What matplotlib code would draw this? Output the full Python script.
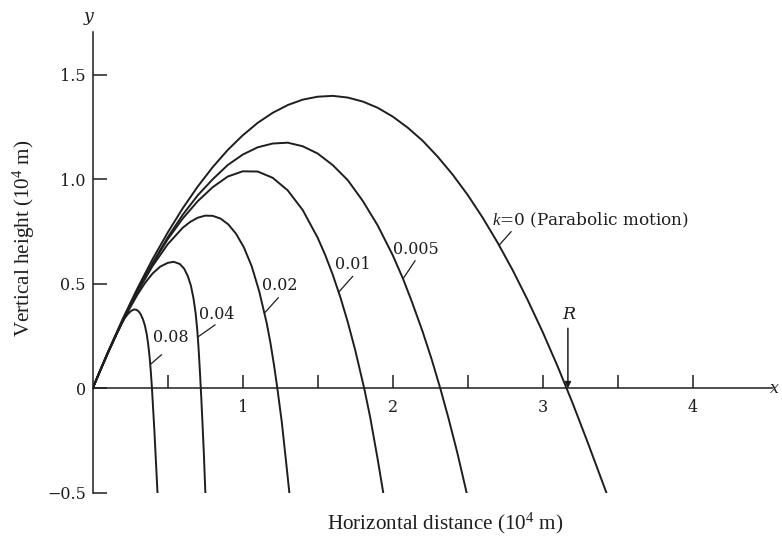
import matplotlib
matplotlib.use("Agg")
import matplotlib.pyplot as plt

plt.rcParams['mathtext.fontset'] = 'custom'
plt.rcParams['mathtext.rm'] = 'Liberation Serif'
plt.rcParams['mathtext.it'] = 'Liberation Serif:italic'

# trajectories (units of 10^4 m)
x_k0 = [0, 0.1, 0.2, 0.3, 0.4, 0.5, 0.6, 0.7, 0.8, 0.9, 1.0, 1.1, 1.2, 1.3, 1.4, 1.5,
        1.6, 1.7, 1.8, 1.9, 2.0, 2.1, 2.2, 2.3, 2.4, 2.5, 2.6, 2.7, 2.8, 2.9, 3.0,
        3.1, 3.2, 3.3, 3.425]
y_k0 = [0, 0.171, 0.332, 0.481, 0.619, 0.745, 0.861, 0.965, 1.058, 1.140, 1.210,
        1.270, 1.318, 1.355, 1.381, 1.395, 1.399, 1.391, 1.372, 1.342, 1.300, 1.247,
        1.184, 1.108, 1.022, 0.925, 0.816, 0.696, 0.565, 0.422, 0.269, 0.104,
        -0.072, -0.259, -0.5]

x_k005 = [0, 0.1, 0.2, 0.3, 0.4, 0.5, 0.6, 0.7, 0.8, 0.9, 1.0, 1.1, 1.2, 1.3, 1.4,
          1.5, 1.6, 1.7, 1.8, 1.9, 2.0, 2.07, 2.13, 2.2, 2.26, 2.317, 2.37, 2.43,
          2.493]
y_k005 = [0, 0.168, 0.324, 0.469, 0.60, 0.722, 0.83, 0.923, 1.0, 1.068, 1.118, 1.153,
          1.171, 1.175, 1.158, 1.123, 1.068, 0.996, 0.897, 0.779, 0.637, 0.522, 0.41,
          0.27, 0.138, 0, -0.138, -0.306, -0.5]

x_k01 = [0, 0.1, 0.2, 0.3, 0.4, 0.5, 0.6, 0.7, 0.8, 0.9, 1.0, 1.1, 1.2, 1.3, 1.4,
         1.5, 1.55, 1.6, 1.65, 1.7, 1.75, 1.8, 1.81, 1.85, 1.9, 1.937]
y_k01 = [0, 0.168, 0.324, 0.467, 0.597, 0.713, 0.812, 0.895, 0.962, 1.013, 1.038,
         1.037, 1.007, 0.947, 0.853, 0.72, 0.638, 0.544, 0.438, 0.318, 0.183, 0.03,
         0, -0.139, -0.34, -0.5]

x_k02 = [0, 0.05, 0.1, 0.2, 0.3, 0.4, 0.5, 0.6, 0.65, 0.7, 0.75, 0.8, 0.852, 0.904,
         0.956, 1.008, 1.06, 1.11, 1.16, 1.185, 1.21, 1.23, 1.26, 1.289, 1.311]
y_k02 = [0, 0.085, 0.168, 0.323, 0.463, 0.586, 0.689, 0.768, 0.796, 0.816, 0.826,
         0.825, 0.812, 0.784, 0.739, 0.674, 0.584, 0.464, 0.312, 0.217, 0.105, 0.005,
         -0.158, -0.35, -0.5]

x_k04 = [0, 0.05, 0.1, 0.15, 0.2, 0.25, 0.3, 0.35, 0.4, 0.45, 0.5, 0.54, 0.58, 0.61,
         0.635, 0.655, 0.672, 0.686, 0.697, 0.705, 0.711, 0.717, 0.724, 0.732, 0.741,
         0.751]
y_k04 = [0, 0.085, 0.167, 0.246, 0.318, 0.387, 0.45, 0.505, 0.55, 0.582, 0.60, 0.605,
         0.595, 0.572, 0.535, 0.49, 0.43, 0.36, 0.28, 0.20, 0.128, 0.05, -0.048,
         -0.168, -0.312, -0.5]

x_k08 = [0, 0.05, 0.1, 0.15, 0.19, 0.215, 0.24, 0.26, 0.275, 0.29, 0.305, 0.32, 0.335,
         0.348, 0.36, 0.37, 0.38, 0.388, 0.395, 0.403, 0.411, 0.418, 0.425, 0.432]
y_k08 = [0, 0.085, 0.168, 0.248, 0.308, 0.338, 0.36, 0.372, 0.377, 0.376, 0.369,
         0.354, 0.33, 0.30, 0.26, 0.21, 0.145, 0.075, 0, -0.1, -0.2, -0.3, -0.4, -0.5]

curves = [(x_k0, y_k0), (x_k005, y_k005), (x_k01, y_k01),
          (x_k02, y_k02), (x_k04, y_k04), (x_k08, y_k08)]

# curve labels: text, left edge / centre y, leader line start and end
curve_labels = ['$k$=0 (Parabolic motion)', '0.005', '0.01', '0.02', '0.04', '0.08']
label_size = [12.2, 11.5, 11.5, 11.5, 11.5, 11.5]
label_pos = [(2.665, 0.803), (2.004, 0.665), (1.615, 0.59), (1.127, 0.49),
             (0.711, 0.351), (0.40, 0.242)]
leader_from = [(2.709, 0.684), (2.07, 0.525), (1.64, 0.46), (1.145, 0.36),
               (0.70, 0.245), (0.386, 0.115)]
leader_to = [(2.789, 0.749), (2.149, 0.61), (1.733, 0.535), (1.237, 0.433),
             (0.815, 0.303), (0.458, 0.16)]

x_ticks = [0.5, 1, 1.5, 2, 2.5, 3, 3.5, 4]
x_tick_labels = ['', '1', '', '2', '', '3', '', '4']
y_ticks = [-0.5, 0, 0.5, 1.0, 1.5]
y_tick_labels = ['\u22120.5', '0', '0.5', '1.0', '1.5']

ink = '#1e1e1e'
num_font = 'DejaVu Serif'

fig = plt.figure(figsize=(7.82, 5.45), dpi=100)
ax = fig.add_axes([92.7 / 782, (545 - 492.8) / 545, 679.5 / 782, 461.1 / 545])
ax.set_xlim(0, 4.53)
ax.set_ylim(-0.5, 1.706)

for xs, ys in curves:
    ax.plot(xs, ys, color=ink, lw=1.4, solid_joinstyle='round')

for txt, fs, (tx, ty), p0, p1 in zip(curve_labels, label_size, label_pos,
                                     leader_from, leader_to):
    ax.text(tx, ty, txt, ha='left', va='center', fontsize=fs,
            family=num_font, color=ink)
    ax.plot([p0[0], p1[0]], [p0[1], p1[1]], color=ink, lw=0.9)

# range marker R
ax.text(3.171, 0.355, 'R', ha='center', va='center', fontsize=12.5,
        family=num_font, style='italic', color=ink)
ax.annotate('', xy=(3.168, 0.0), xytext=(3.168, 0.287),
            arrowprops=dict(arrowstyle='-|>', color=ink, lw=1.1,
                            mutation_scale=9, shrinkA=0, shrinkB=0))

# axes drawn through the origin
for side in ['top', 'right']:
    ax.spines[side].set_visible(False)
ax.spines['bottom'].set_position(('data', 0))
for side in ['bottom', 'left']:
    ax.spines[side].set_linewidth(1.1)
    ax.spines[side].set_color(ink)

ax.set_xticks(x_ticks, x_tick_labels)
ax.set_yticks(y_ticks, y_tick_labels)
ax.tick_params(axis='x', direction='in', length=9.4, width=1.1, pad=8,
               labelsize=11.5, colors=ink, labelfontfamily=num_font)
ax.tick_params(axis='y', direction='in', length=10, width=1.1, pad=5,
               labelsize=11.5, colors=ink, labelfontfamily=num_font)

ax.text(-0.025, 1.78, 'y', ha='center', va='center', fontsize=12.5,
        family=num_font, style='italic', color=ink, clip_on=False)
ax.text(4.515, 0.0, 'x', ha='left', va='center', fontsize=11.5,
        family=num_font, style='italic', color=ink, clip_on=False)

fig.text(445 / 782, 1 - 523 / 545, 'Horizontal distance ($\\mathrm{10^4}$ m)',
         ha='center', va='center', fontsize=15.2, family='Liberation Serif', color=ink)
fig.text(24 / 782, 1 - 238 / 545, 'Vertical height ($\\mathrm{10^4}$ m)',
         ha='center', va='center', rotation=90, fontsize=15.2,
         family='Liberation Serif', color=ink)

fig.savefig('out.png', dpi=100)
